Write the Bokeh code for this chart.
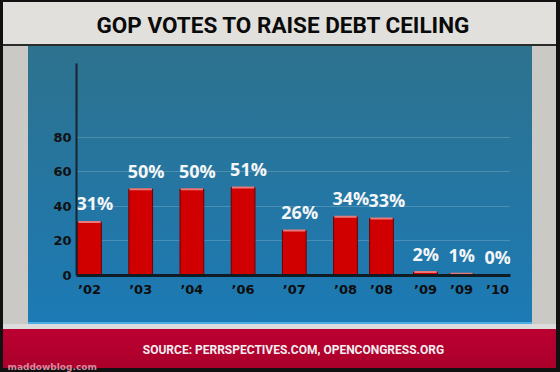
from bokeh.plotting import figure
from bokeh.models import FactorRange, Range1d, ColumnDataSource, FixedTicker, Title
from bokeh.core.properties import value
from bokeh.embed import file_html
from bokeh.resources import INLINE

# ---------------- data ----------------
years = ["\u201902", "\u201903", "\u201904", "\u201906", "\u201907",
         "\u201908", "\u201908", "\u201909", "\u201909", "\u201910"]
gop_pct = [31, 50, 50, 51, 26, 34, 33, 2, 1, 0]
pct_labels = [f"{v}%" for v in gop_pct]
y_ticks = [0, 20, 40, 60, 80]
title_text = "GOP VOTES TO RAISE DEBT CEILING"
source_text = "SOURCE: PERRSPECTIVES.COM, OPENCONGRESS.ORG"
credit_text = "maddowblog.com"

# grouping used only for bar spacing (votes held close together share a group)
group_of = ["a"] * 7 + ["b"] * 3
subgroup_of = ["1", "2", "3", "4", "5", "6", "6", "7", "7", "7"]
leaf = []
for i, y in enumerate(years):
    k = sum(1 for j in range(i) if years[j] == y and subgroup_of[j] == subgroup_of[i])
    leaf.append(y + "\u200b" * k)
factors = list(zip(group_of, subgroup_of, leaf))

# ---------------- layout ----------------
W, H = 560, 372
FL, FT, FW, FH = 76, 63, 434, 212

p = figure(width=W, height=H, output_backend="svg", toolbar_location=None,
           x_range=FactorRange(factors=factors, factor_padding=0.0,
                               subgroup_padding=0.4222, group_padding=0.2222,
                               range_padding=-0.139, range_padding_units="absolute"),
           y_range=Range1d(0, 122.8),
           min_border_left=FL, min_border_top=FT,
           min_border_right=W - FL - FW, min_border_bottom=H - FT - FH)

p.border_fill_alpha = 0.0
p.background_fill_alpha = 0.0
p.outline_line_color = None
p.styles = {
    "background-color": "#cbc9c6",
    "background-image": ", ".join([
        "linear-gradient(#e2e0dc, #e2e0dc)",
        "linear-gradient(#2b2b2b, #2b2b2b)",
        "linear-gradient(#4aaee2, #4aaee2)",
        "linear-gradient(to bottom, #2e728e, #1c7ab5)",
        "linear-gradient(#dcdcdc, #dcdcdc)",
        "linear-gradient(to bottom, #bb0032, #a9002a)",
    ]),
    "background-position": "0 0, 0 44px, 28px 322px, 28px 46px, 0 324px, 0 329px",
    "background-size": "100% 44px, 100% 2px, 504px 2px, 504px 276px, 100% 5px, 100% 43px",
    "background-repeat": "no-repeat",
    "box-shadow": "inset 3px 2px 0 #111, inset -4px -4px 0 #111",
}

# ---------------- title ----------------
p.title.text = title_text
p.title.align = "left"
p.title.offset = 20
p.title.vertical_align = "top"
p.title.standoff = 20
p.title.text_font = "Roboto"
p.title.text_font_style = "bold"
p.title.text_font_size = "22.5px"
p.title.text_color = "#0a0a0a"
# empty gap between the title band and the chart
p.add_layout(Title(text=" ", text_font_size="1px", standoff=11,
                   text_color="#2e728e"), "above")

# ---------------- axes / grid ----------------
p.xgrid.grid_line_color = None
p.ygrid.ticker = FixedTicker(ticks=y_ticks)
p.ygrid.grid_line_color = "white"
p.ygrid.grid_line_alpha = 0.18

p.yaxis.ticker = FixedTicker(ticks=y_ticks)
p.yaxis.axis_line_color = "#14252e"
p.yaxis.axis_line_width = 2
p.yaxis.major_tick_line_color = None
p.yaxis.major_tick_out = 0
p.yaxis.minor_tick_line_color = None
p.yaxis.major_label_text_font = "DejaVu Sans"
p.yaxis.major_label_text_font_style = "bold"
p.yaxis.major_label_text_font_size = "13px"
p.yaxis.major_label_text_color = "#111111"
p.yaxis.major_label_standoff = 5

xa = p.xaxis[0]
xa.axis_line_color = "#0f1c24"
xa.axis_line_width = 3
xa.major_tick_line_color = None
xa.major_tick_out = 0
xa.minor_tick_line_color = None
xa.major_label_text_font = "DejaVu Sans"
xa.major_label_text_font_style = "bold"
xa.major_label_text_font_size = "13px"
xa.major_label_text_color = "#0d0d0d"
xa.major_label_standoff = 6
xa.group_text_color = None
xa.group_text_font_size = "1px"
xa.subgroup_text_color = None
xa.subgroup_text_font_size = "1px"
xa.separator_line_color = None
xa.axis_label = source_text
xa.axis_label_text_font = "Roboto"
xa.axis_label_text_font_style = "bold"
xa.axis_label_text_font_size = "12px"
xa.axis_label_text_color = "#f3eef0"
xa.axis_label_standoff = 43

p.add_layout(Title(text=credit_text, align="left", offset=-69, standoff=0,
                   text_font="DejaVu Sans", text_font_style="bold",
                   text_font_size="9px", text_color="#d88a9e"), "below")

# ---------------- bars ----------------
src = ColumnDataSource(dict(x=factors, top=gop_pct, label=pct_labels))
p.vbar(x="x", top="top", bottom=0, width=0.66, source=src,
       fill_color="#d10000", line_color="#6e0000", line_width=1)
# light top edge of each bar
p.vbar(x="x", top="top", bottom="top", width=0.62, source=src,
       fill_color=None, line_color="#ea7a7a", line_width=2)

p.text(x="x", y="top", text="label", source=src,
       text_font=value("Open Sans"), text_font_style="bold",
       text_font_size="18px", text_color="#f4f6f8",
       text_align="left", text_baseline="alphabetic", x_offset=-13, y_offset=-18.5)

open("out.html", "w").write(file_html(p, INLINE))
